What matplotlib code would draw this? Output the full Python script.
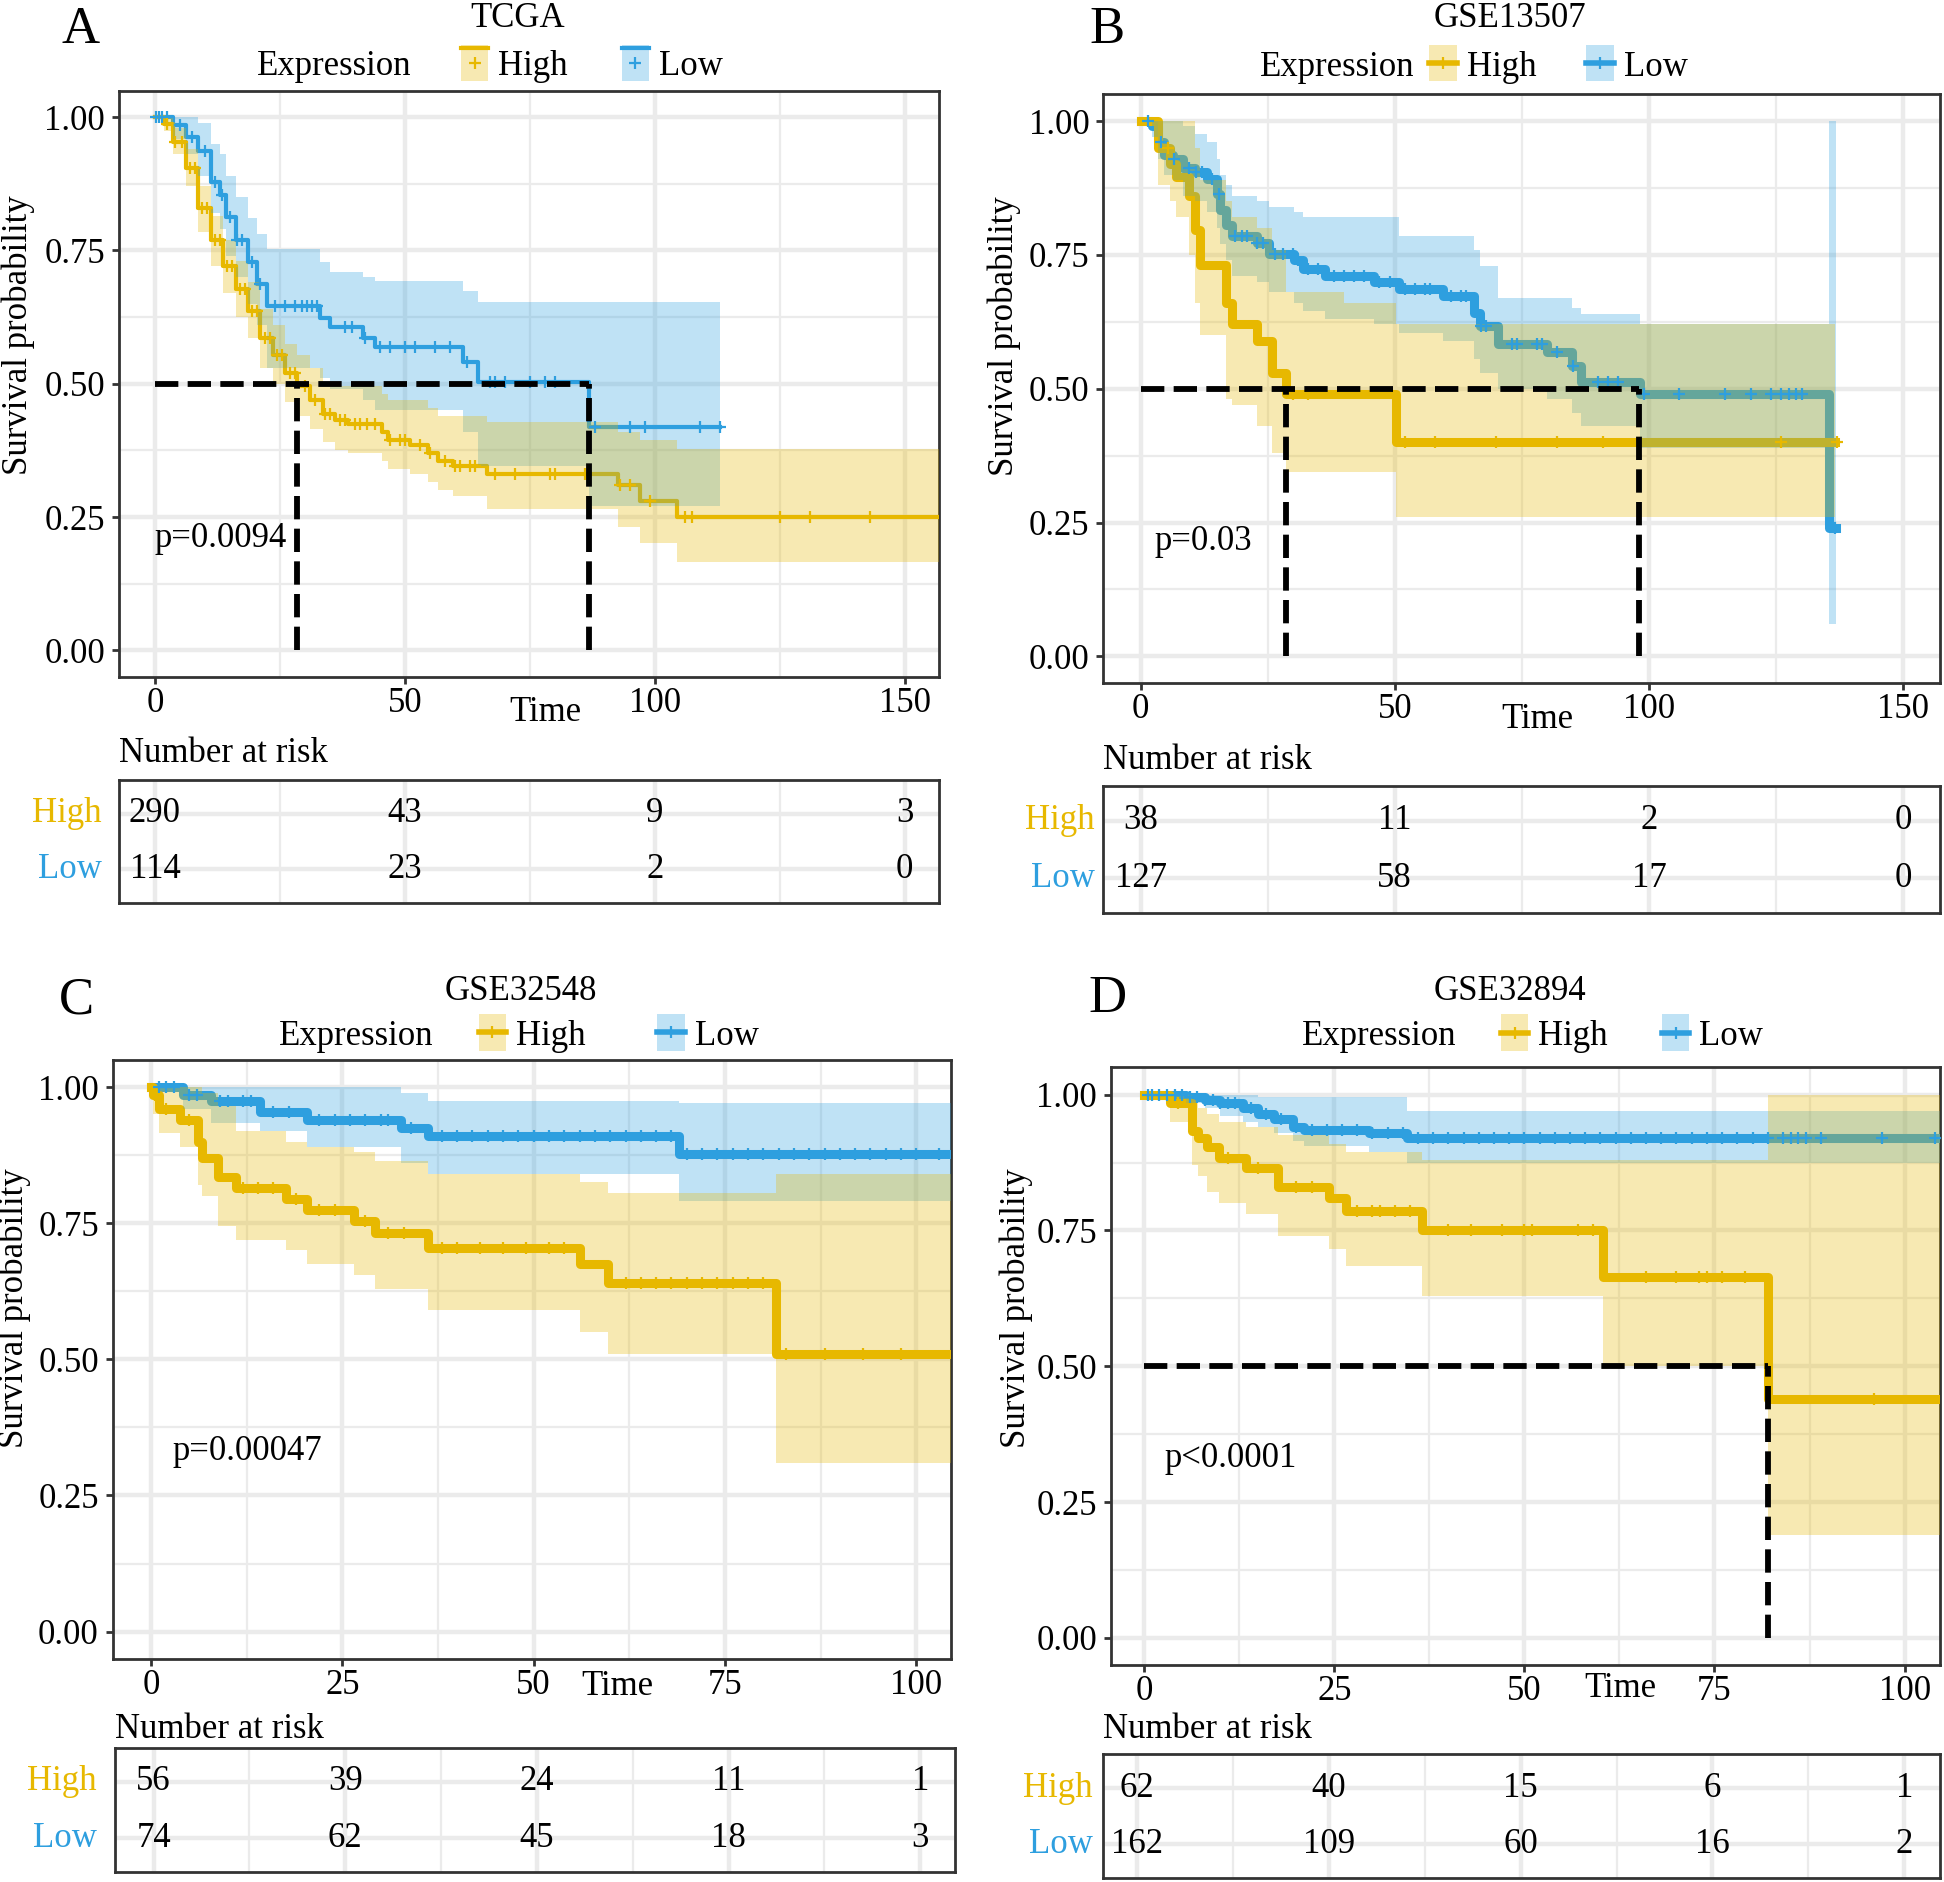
import numpy as np
import matplotlib
matplotlib.use('Agg')
import matplotlib.pyplot as plt
from matplotlib.patches import Rectangle
from matplotlib.lines import Line2D
from matplotlib.ticker import FormatStrFormatter

plt.rcParams['font.family'] = ['Liberation Serif', 'DejaVu Serif']

HIGH_COL = '#E7B800'
LOW_COL = '#2E9FDF'
GRID = '#EBEBEB'
EDGE = '#333333'
FS = 25

# ---------------- A: TCGA ----------------
a_high_t = [0, 1.9, 3.7, 6.2, 8.7, 11.2, 13.7, 16.2, 18.7, 21.1, 23.6, 26.1, 28.5, 31.1,
            33.6, 36, 38.6, 45.4, 46.6, 51, 54.7, 56.6, 59.7, 66.5, 92.7, 97, 104.5, 156.8]
a_high_s = [1.0, 0.987, 0.954, 0.904, 0.829, 0.77, 0.72, 0.678, 0.637, 0.586, 0.553, 0.52, 0.495, 0.47,
            0.444, 0.432, 0.424, 0.41, 0.395, 0.385, 0.37, 0.355, 0.345, 0.33, 0.31, 0.28, 0.25, 0.25]
a_high_up = [1.0, 1.0, 0.98, 0.94, 0.87, 0.815, 0.77, 0.73, 0.69, 0.64, 0.61, 0.575, 0.553, 0.53,
             0.503, 0.495, 0.495, 0.48, 0.47, 0.47, 0.455, 0.44, 0.44, 0.428, 0.41, 0.394, 0.378, 0.378]
a_high_lo = [1.0, 0.975, 0.93, 0.87, 0.785, 0.72, 0.67, 0.625, 0.585, 0.53, 0.5, 0.465, 0.44, 0.415,
             0.39, 0.375, 0.37, 0.355, 0.34, 0.33, 0.315, 0.30, 0.29, 0.265, 0.231, 0.202, 0.165, 0.165]
a_high_cens = [2.5, 4, 5.5, 7, 8, 9.5, 10.5, 12, 13, 14.5, 15.5, 17, 18, 19.5, 20.5, 22, 23, 24.5,
               25.5, 27, 28, 30, 32, 34, 35, 37, 38, 40, 41, 42.5, 44, 47, 49, 50, 53, 55, 58, 60,
               61, 63, 64, 68, 72, 79, 80, 86, 93, 95, 99, 106, 107.5, 125, 131, 143]
a_low_t = [0, 3.7, 6.2, 8.7, 11.2, 13, 14.3, 16.2, 18.7, 20.5, 22.4, 33, 35, 41.7, 44, 61.6,
           64.7, 86.8, 113]
a_low_s = [1.0, 0.985, 0.962, 0.937, 0.879, 0.854, 0.812, 0.77, 0.728, 0.687, 0.645, 0.624, 0.607,
           0.586, 0.568, 0.54, 0.503, 0.419, 0.419]
a_low_up = [1.0, 1.0, 1.0, 0.99, 0.95, 0.93, 0.89, 0.85, 0.81, 0.78, 0.753, 0.728, 0.71, 0.70,
            0.693, 0.674, 0.653, 0.653, 0.653]
a_low_lo = [1.0, 0.96, 0.93, 0.89, 0.82, 0.79, 0.74, 0.70, 0.65, 0.61, 0.53, 0.51, 0.49, 0.47,
            0.45, 0.41, 0.345, 0.27, 0.27]
a_low_cens = [0.3, 0.8, 1.5, 2.5, 5, 7.5, 10, 12, 13.5, 15, 16.5, 17.5, 19.5, 21, 24, 26, 28,
              29.5, 30.5, 31.5, 32.5, 38, 39.5, 42, 45, 47, 50, 52, 56, 59, 62.5, 67, 68, 70, 75,
              78, 80, 88, 95, 98, 109, 113]
a_medians = [28.5, 86.8]
a_risk_t = [0, 50, 100, 150]
a_risk_high = [290, 43, 9, 3]
a_risk_low = [114, 23, 2, 0]

# ---------------- B: GSE13507 ----------------
b_high_t = [0, 3.4, 5.8, 7, 9.5, 10.7, 11.7, 16.8, 18, 22.9, 25.9, 28.6, 40, 50.2, 136.5]
b_high_s = [1.0, 0.95, 0.92, 0.895, 0.86, 0.797, 0.732, 0.66, 0.62, 0.59, 0.53, 0.49, 0.49, 0.40, 0.40]
b_high_up = [1.0, 1.0, 1.0, 1.0, 1.0, 0.95, 0.89, 0.85, 0.82, 0.80, 0.76, 0.68, 0.66, 0.62, 0.62]
b_high_lo = [1.0, 0.88, 0.85, 0.82, 0.75, 0.66, 0.60, 0.48, 0.47, 0.43, 0.38, 0.345, 0.345, 0.26, 0.26]
b_high_cens = [5.5, 30, 33, 52, 58, 70, 82, 91, 126, 137]
b_low_t = [0, 2.2, 3.4, 4.6, 6.4, 8.3, 10.7, 13.1, 15, 15.6, 16.8, 18, 22.9, 25.3, 30.2, 32,
           36.3, 46, 50.9, 59.4, 65.5, 66.7, 70.3, 80, 84.9, 86.7, 98.3, 135.4, 136.8]
b_low_s = [1.0, 0.99, 0.961, 0.937, 0.929, 0.912, 0.904, 0.892, 0.863, 0.834, 0.806, 0.785, 0.773,
           0.752, 0.74, 0.724, 0.711, 0.699, 0.687, 0.674, 0.641, 0.617, 0.584, 0.568, 0.543,
           0.512, 0.49, 0.24, 0.24]
b_low_up = [1.0, 1.0, 1.0, 1.0, 1.0, 0.99, 0.975, 0.96, 0.93, 0.90, 0.88, 0.86, 0.85, 0.84, 0.83,
            0.82, 0.82, 0.82, 0.785, 0.785, 0.76, 0.73, 0.67, 0.67, 0.65, 0.64, 0.62, 1.0, 1.0]
b_low_lo = [1.0, 0.97, 0.93, 0.90, 0.89, 0.86, 0.85, 0.83, 0.80, 0.77, 0.74, 0.71, 0.70, 0.68,
            0.66, 0.645, 0.63, 0.62, 0.605, 0.59, 0.555, 0.53, 0.50, 0.48, 0.455, 0.43, 0.39,
            0.06, 0.06]
b_low_cens = [1.5, 4, 6.5, 9.5, 11, 12, 14, 15.5, 18.5, 20, 21, 23, 24, 26.5, 28, 30, 31, 33, 35,
              38, 40, 42, 44, 47, 49, 52, 54, 56, 57, 61, 63, 64, 67, 68, 73, 74, 78, 79, 82, 85,
              90, 92, 94, 99, 106, 115, 120, 124, 126, 127.5, 129, 130, 136.5]
b_medians = [28.6, 98.0]
b_risk_t = [0, 50, 100, 150]
b_risk_high = [38, 11, 2, 0]
b_risk_low = [127, 58, 17, 0]

# ---------------- C: GSE32548 ----------------
c_high_t = [0, 0.2, 1, 3.8, 6.2, 6.6, 8.8, 11.1, 17.6, 20.4, 26.5, 29.3, 36.2, 56.1, 59.7, 81.6, 104.5]
c_high_s = [1.0, 0.985, 0.96, 0.94, 0.90, 0.87, 0.835, 0.815, 0.795, 0.775, 0.755, 0.733, 0.705,
            0.675, 0.64, 0.51, 0.51]
c_high_up = [1.0, 1.0, 1.0, 1.0, 1.0, 0.99, 0.965, 0.92, 0.90, 0.89, 0.88, 0.865, 0.84, 0.825,
             0.805, 0.84, 0.84]
c_high_lo = [1.0, 0.95, 0.915, 0.89, 0.82, 0.80, 0.745, 0.72, 0.70, 0.675, 0.655, 0.63, 0.59,
             0.55, 0.51, 0.31, 0.31]
c_high_cens = [0.5, 2, 5, 12, 14, 16, 19, 22, 24, 28, 31, 33, 38, 40, 43, 46, 49, 52, 54, 62, 64,
               66, 68, 70, 72, 74, 76, 78, 80, 83, 88, 93, 98]
c_low_t = [0, 4.2, 7.9, 14.3, 20.4, 32.6, 36.2, 69, 104.5]
c_low_s = [1.0, 0.985, 0.975, 0.955, 0.94, 0.925, 0.91, 0.877, 0.877]
c_low_up = [1.0, 1.0, 1.0, 1.0, 1.0, 0.99, 0.975, 0.97, 0.97]
c_low_lo = [1.0, 0.96, 0.935, 0.92, 0.89, 0.86, 0.84, 0.79, 0.79]
c_low_cens = [1, 2, 3, 5, 6, 9, 10, 12, 13, 16, 18, 22, 24, 26, 28, 30, 31, 34, 38, 40, 42, 44,
              46, 48, 50, 52, 54, 56, 58, 60, 62, 64, 66, 68, 70, 72, 74, 76, 78, 80, 82, 84, 86,
              88, 90, 92, 94, 96, 98, 100, 103]
c_medians = []
c_risk_t = [0, 25, 50, 75, 100]
c_risk_high = [56, 39, 24, 11, 1]
c_risk_low = [74, 62, 45, 18, 3]

# ---------------- D: GSE32894 ----------------
d_high_t = [0, 3.4, 6.3, 7.1, 8.3, 9.8, 13.4, 17.6, 24.3, 26.6, 36.5, 60.4, 82.1, 104.7]
d_high_s = [1.0, 0.984, 0.933, 0.92, 0.903, 0.884, 0.865, 0.83, 0.81, 0.785, 0.75, 0.665, 0.44, 0.44]
d_high_up = [1.0, 1.0, 0.985, 0.975, 0.965, 0.95, 0.94, 0.925, 0.91, 0.895, 0.88, 0.88, 1.0, 1.0]
d_high_lo = [1.0, 0.95, 0.87, 0.85, 0.82, 0.80, 0.78, 0.74, 0.715, 0.685, 0.63, 0.50, 0.19, 0.19]
d_high_cens = [4.5, 11, 15, 20, 22, 28, 30, 31, 33, 35, 40, 43, 47, 50, 51, 57, 59, 66, 70, 73,
               74, 76, 79, 96]
d_low_t = [0, 5.5, 8, 10, 13, 15, 17, 19.5, 21, 29.6, 34.5, 104.7]
d_low_s = [1.0, 0.995, 0.99, 0.985, 0.975, 0.965, 0.955, 0.94, 0.935, 0.93, 0.92, 0.92]
d_low_up = [1.0, 1.0, 1.0, 1.0, 1.0, 0.995, 0.995, 0.995, 0.995, 0.995, 0.97, 0.97]
d_low_lo = [1.0, 0.985, 0.975, 0.96, 0.95, 0.94, 0.93, 0.915, 0.905, 0.895, 0.875, 0.875]
d_low_cens = [0.5, 1, 2, 3, 4, 5, 6, 7, 8, 9, 10, 11, 12, 14, 16, 18, 20, 22, 24, 26, 28, 30, 32,
              34, 36, 38, 40, 42, 44, 46, 48, 50, 52, 54, 56, 58, 60, 62, 64, 66, 68, 70, 72, 74,
              76, 78, 80, 82, 84, 85, 86, 87, 89, 97, 104]
d_medians = [82.0]
d_risk_t = [0, 25, 50, 75, 100]
d_risk_high = [62, 40, 15, 6, 1]
d_risk_low = [162, 109, 60, 16, 2]


def km_curve(ax, t, s, up, lo, cens, color, lw):
    t = np.asarray(t, float)
    s = np.asarray(s, float)
    ax.step(t, s, where='post', color=color, lw=lw, zorder=3)
    ax.fill_between(t, lo, up, step='post', color=color, alpha=0.3, lw=0, zorder=4)
    cens = np.asarray(cens, float)
    idx = np.searchsorted(t, cens, side='right') - 1
    ax.plot(cens, s[idx], ls='none', marker='+', ms=9, mew=1.6, color=color, zorder=5)


def legend_key(ax, x, y, color, label, lw, top_line=False):
    w, h = 0.033, 0.062
    ax.add_patch(Rectangle((x - w / 2, y - h / 2), w, h, transform=ax.transAxes,
                           color=color, alpha=0.3, lw=0, clip_on=False))
    ly = y + h / 2 - 0.006 if top_line else y
    ax.add_line(Line2D([x - w / 2, x + w / 2], [ly, ly], transform=ax.transAxes,
                       color=color, lw=lw, clip_on=False))
    ax.plot([x], [y], marker='+', ms=9, mew=1.6, color=color,
            transform=ax.transAxes, clip_on=False)
    ax.text(x + w / 2 + 0.012, y, label, transform=ax.transAxes, fontsize=FS,
            va='center_baseline', ha='left')


def style_axes(ax, xlim, major, minor):
    ax.set_xlim(xlim)
    ax.set_xticks(major)
    ax.set_xticks(minor, minor=True)
    ax.grid(which='major', color=GRID, lw=3.2)
    ax.grid(which='minor', color=GRID, lw=1.6)
    ax.set_axisbelow(True)
    for sp in ax.spines.values():
        sp.set_color(EDGE)
        sp.set_linewidth(2)


fig = plt.figure(figsize=(19.44, 18.82), dpi=100)

panels = [
    dict(letter='A', title='TCGA', rect=[0.0612, 0.6403, 0.4216, 0.3116],
         risk_rect=[0.0612, 0.5204, 0.4216, 0.0651], xlim=(-7.2, 156.8),
         major=[0, 50, 100, 150], minor=[25, 75, 125], lw=3.0, top_line=True,
         high=(a_high_t, a_high_s, a_high_up, a_high_lo, a_high_cens),
         low=(a_low_t, a_low_s, a_low_up, a_low_lo, a_low_cens),
         medians=a_medians, ptxt='p=0.0094', ppos=(0.0, 0.21),
         risk=(a_risk_t, a_risk_high, a_risk_low),
         letter_pos=(-0.047, 1.104), title_pos=(0.487, 1.123),
         expr_pos=(0.263, 1.047), keys=(0.434, 0.630), time_pos=(0.52, -0.061),
         ylab_pos=(-0.1225, 0.583), nar_y=1.22, row_x=-0.021),
    dict(letter='B', title='GSE13507', rect=[0.5676, 0.6370, 0.4305, 0.3129],
         risk_rect=[0.5676, 0.5151, 0.4305, 0.0672], xlim=(-7.3, 157.3),
         major=[0, 50, 100, 150], minor=[25, 75, 125], lw=6.5, top_line=False,
         high=(b_high_t, b_high_s, b_high_up, b_high_lo, b_high_cens),
         low=(b_low_t, b_low_s, b_low_up, b_low_lo, b_low_cens),
         medians=b_medians, ptxt='p=0.03', ppos=(2.8, 0.215),
         risk=(b_risk_t, b_risk_high, b_risk_low),
         letter_pos=(0.004, 1.11), title_pos=(0.486, 1.129),
         expr_pos=(0.279, 1.053), keys=(0.406, 0.593), time_pos=(0.519, -0.061),
         ylab_pos=(-0.1185, 0.59), nar_y=1.206, row_x=-0.01),
    dict(letter='C', title='GSE32548', rect=[0.0580, 0.1186, 0.4311, 0.3182],
         risk_rect=[0.0593, 0.0053, 0.4318, 0.0659], xlim=(-5.0, 104.5),
         major=[0, 25, 50, 75, 100], minor=[12.5, 37.5, 62.5, 87.5], lw=6.5, top_line=False,
         high=(c_high_t, c_high_s, c_high_up, c_high_lo, c_high_cens),
         low=(c_low_t, c_low_s, c_low_up, c_low_lo, c_low_cens),
         medians=c_medians, ptxt='p=0.00047', ppos=(2.8, 0.33),
         risk=(c_risk_t, c_risk_high, c_risk_low),
         letter_pos=(-0.043, 1.1), title_pos=(0.487, 1.114),
         expr_pos=(0.291, 1.046), keys=(0.453, 0.666), time_pos=(0.602, -0.046),
         ylab_pos=(-0.117, 0.586), nar_y=1.15, row_x=-0.022),
    dict(letter='D', title='GSE32894', rect=[0.5714, 0.1153, 0.4267, 0.3175],
         risk_rect=[0.5676, 0.0020, 0.4305, 0.0659], xlim=(-4.4, 104.7),
         major=[0, 25, 50, 75, 100], minor=[12.5, 37.5, 62.5, 87.5], lw=6.5, top_line=False,
         high=(d_high_t, d_high_s, d_high_up, d_high_lo, d_high_cens),
         low=(d_low_t, d_low_s, d_low_up, d_low_lo, d_low_cens),
         medians=d_medians, ptxt='p<0.0001', ppos=(2.6, 0.33),
         risk=(d_risk_t, d_risk_high, d_risk_low),
         letter_pos=(-0.004, 1.114), title_pos=(0.481, 1.127),
         expr_pos=(0.323, 1.058), keys=(0.487, 0.681), time_pos=(0.614, -0.04),
         ylab_pos=(-0.1136, 0.598), nar_y=1.2, row_x=-0.013),
]

for p in panels:
    ax = fig.add_axes(p['rect'])
    style_axes(ax, p['xlim'], p['major'], p['minor'])
    ax.set_ylim(-0.05, 1.05)
    ax.set_yticks([0, 0.25, 0.5, 0.75, 1.0])
    ax.set_yticks([0.125, 0.375, 0.625, 0.875], minor=True)
    ax.yaxis.set_major_formatter(FormatStrFormatter('%.2f'))
    ax.tick_params(which='major', direction='out', length=5, width=2, color=EDGE,
                   labelsize=FS, labelcolor='black')
    ax.tick_params(axis='x', pad=2)
    ax.tick_params(axis='y', pad=5)
    ax.tick_params(which='minor', length=0)

    km_curve(ax, *p['low'], LOW_COL, p['lw'])
    km_curve(ax, *p['high'], HIGH_COL, p['lw'])

    # median survival guides
    if p['medians']:
        ax.plot([0, max(p['medians'])], [0.5, 0.5], color='black', lw=4.2,
                ls=(0, (4, 1.6)), zorder=6)
        for m in p['medians']:
            ax.plot([m, m], [0, 0.5], color='black', lw=4.2, ls=(0, (4, 1.6)), zorder=6)

    ax.text(p['ppos'][0], p['ppos'][1], p['ptxt'], fontsize=FS, ha='left', va='center')

    ax.set_xlabel('Time', fontsize=FS)
    ax.xaxis.set_label_coords(*p['time_pos'])
    ax.xaxis.label.set_va('center')
    ax.set_ylabel('Survival probability', fontsize=FS)
    ax.yaxis.set_label_coords(*p['ylab_pos'])
    ax.yaxis.label.set_va('center')

    ax.text(*p['letter_pos'], p['letter'], transform=ax.transAxes, fontsize=38,
            ha='center', va='center')
    ax.text(*p['title_pos'], p['title'], transform=ax.transAxes, fontsize=FS,
            ha='center', va='center')
    ax.text(*p['expr_pos'], 'Expression', transform=ax.transAxes, fontsize=FS,
            ha='center', va='center_baseline')
    ky = p['expr_pos'][1]
    legend_key(ax, p['keys'][0], ky, HIGH_COL, 'High', min(p['lw'], 4), p['top_line'])
    legend_key(ax, p['keys'][1], ky, LOW_COL, 'Low', min(p['lw'], 4), p['top_line'])

    # number at risk table
    rt, rh, rl = p['risk']
    rax = fig.add_axes(p['risk_rect'])
    style_axes(rax, p['xlim'], p['major'], p['minor'])
    rax.set_ylim(0.4, 2.6)
    rax.set_yticks([1, 2])
    rax.tick_params(which='both', length=0, labelbottom=False, labelleft=False)
    for x, n in zip(rt, rh):
        rax.text(x, 2, str(n), fontsize=FS, ha='center', va='center')
    for x, n in zip(rt, rl):
        rax.text(x, 1, str(n), fontsize=FS, ha='center', va='center')
    tr = rax.get_yaxis_transform()
    rax.text(p['row_x'], 2, 'High', transform=tr, fontsize=FS, color=HIGH_COL,
             ha='right', va='center')
    rax.text(p['row_x'], 1, 'Low', transform=tr, fontsize=FS, color=LOW_COL,
             ha='right', va='center')
    rax.text(0, p['nar_y'], 'Number at risk', transform=rax.transAxes, fontsize=FS,
             ha='left', va='center')

fig.savefig('out.png', dpi=100)
